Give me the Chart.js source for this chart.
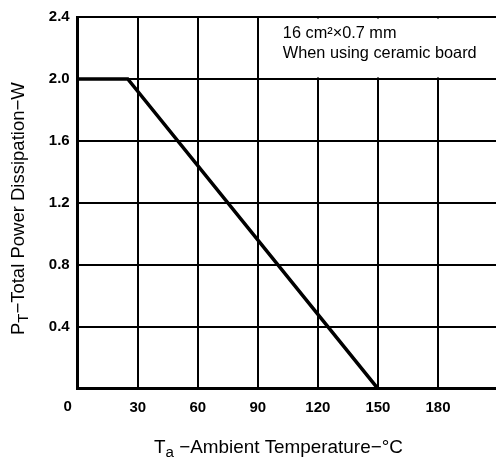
<!DOCTYPE html>
<html>
<head>
<meta charset="utf-8">
<script src="https://cdn.jsdelivr.net/npm/chart.js@4.4.0/dist/chart.umd.min.js"></script>
<style>
  html, body { margin: 0; padding: 0; background: #fff; overflow: hidden; }
  #c { position: absolute; left: 0; top: 0; width: 508px; height: 461px; }
</style>
</head>
<body>
<canvas id="c" width="508" height="461"></canvas>
<script>
// ---- data ----
const temps = [0, 25, 150];          // Ta (°C)
const power = [2.0, 2.0, 0];         // PT (W)
const xMin = 0, xMax = 210, xStep = 30;
const yMin = 0, yMax = 2.4, yStep = 0.4;
const xTitleRuns = [{t: 'T'}, {t: 'a', sub: true}, {t: ' \u2212Ambient Temperature\u2212\u00B0C'}];
const yTitleRuns = [{t: 'P'}, {t: 'T', sub: true}, {t: '\u2212Total Power Dissipation\u2212W'}];
const noteLines = ['16 cm\u00B2\u00D70.7 mm', 'When using ceramic board'];
const FONT = "'Liberation Sans', Arial, Helvetica, sans-serif";

function runsWidth(ctx, runs, size, w8) {
  let w = 0;
  for (const r of runs) {
    ctx.font = w8 + ' ' + (r.sub ? size * 0.8 : size) + 'px ' + FONT;
    w += ctx.measureText(r.t).width;
  }
  return w;
}
function drawRuns(ctx, runs, x, y, size, w8) {
  let cx = x;
  for (const r of runs) {
    ctx.font = w8 + ' ' + (r.sub ? size * 0.8 : size) + 'px ' + FONT;
    ctx.fillText(r.t, cx, r.sub ? y + size * 0.22 : y);
    cx += ctx.measureText(r.t).width;
  }
}

const decor = {
  id: 'decor',
  beforeDatasetsDraw(chart) {
    const {ctx, scales: {x, y}} = chart;
    const x0 = x.getPixelForValue(90) + 1.5;
    const y0 = y.getPixelForValue(2.4) + 1.5;
    const y1 = y.getPixelForValue(2.0) - 1.5;
    ctx.save();
    ctx.fillStyle = '#fff';
    ctx.fillRect(x0, y0, chart.width - x0, y1 - y0);
    ctx.restore();
  },
  afterDraw(chart) {
    const {ctx, scales: {x, y}} = chart;
    ctx.save();
    ctx.fillStyle = '#000';
    ctx.font = 'bold 15px ' + FONT;
    ctx.textAlign = 'center';
    ctx.textBaseline = 'middle';
    ctx.fillText('0', x.getPixelForValue(0) - 10, y.getPixelForValue(0) + 18);
    ctx.textAlign = 'left';
    ctx.textBaseline = 'alphabetic';
    const nx = x.getPixelForValue(90) + 25;
    ctx.font = '14px ' + FONT;
    let s = 14 * 194 / ctx.measureText(noteLines[1]).width;
    ctx.font = s + 'px ' + FONT;
    ctx.fillText(noteLines[0], nx, 38);
    ctx.fillText(noteLines[1], nx, 57.5);
    let xs = 16 * 249 / runsWidth(ctx, xTitleRuns, 16, '500');
    drawRuns(ctx, xTitleRuns, 154, 453, xs, '500');
    let ys = 16 * 253 / runsWidth(ctx, yTitleRuns, 16, '500');
    ctx.translate(24, 335);
    ctx.rotate(-Math.PI / 2);
    drawRuns(ctx, yTitleRuns, 0, 0, ys, '500');
    ctx.restore();
  }
};

Chart.defaults.font.family = FONT;
Chart.defaults.color = '#000';

new Chart(document.getElementById('c'), {
  type: 'line',
  data: {
    datasets: [{
      data: temps.map((t, i) => ({x: t, y: power[i]})),
      borderColor: '#000',
      borderWidth: 3.5,
      pointRadius: 0,
      tension: 0,
      fill: false
    }]
  },
  options: {
    responsive: false,
    devicePixelRatio: 1,
    animation: false,
    layout: { padding: { left: 0, top: 10, right: 0, bottom: 0 } },
    plugins: { legend: { display: false }, tooltip: { enabled: false } },
    scales: {
      x: {
        type: 'linear', min: xMin, max: xMax,
        afterFit: s => { s.height = 72.3; },
        ticks: {
          stepSize: xStep, padding: 10,
          font: { size: 15, weight: 'bold' },
          maxRotation: 0, autoSkip: false,
          callback: v => (v === 0 || v === xMax) ? '' : String(v)
        },
        grid: { color: '#000', lineWidth: 2, drawTicks: false },
        border: { color: '#000', width: 3 }
      },
      y: {
        type: 'linear', min: yMin, max: yMax,
        afterFit: s => { s.width = 77.7; },
        ticks: {
          stepSize: yStep, padding: 8,
          font: { size: 15, weight: 'bold' },
          callback: v => v === 0 ? '' : v.toFixed(1)
        },
        grid: { color: '#000', lineWidth: 2, drawTicks: false },
        border: { color: '#000', width: 3 }
      }
    }
  },
  plugins: [decor]
});
</script>
</body>
</html>
